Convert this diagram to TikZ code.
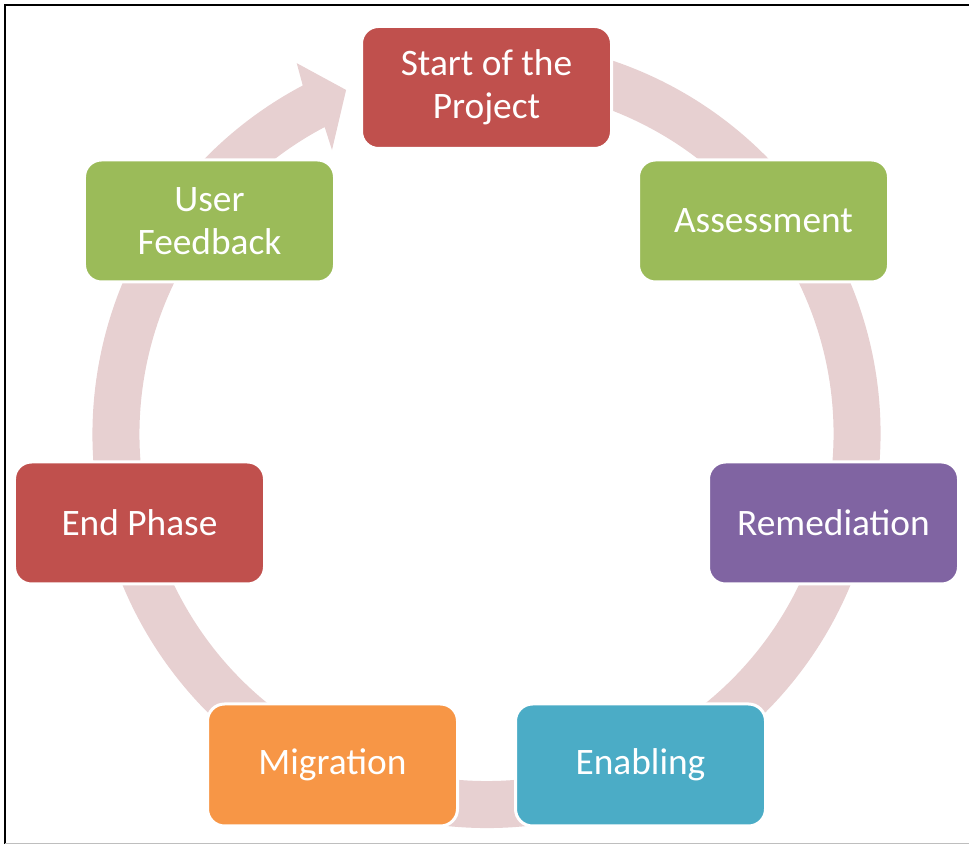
\documentclass[tikz,border=0pt]{standalone}
\usepackage{fontspec}
\setmainfont{Carlito}
\usetikzlibrary{calc}
\definecolor{cred}{RGB}{192,80,77}
\definecolor{cgreen}{RGB}{155,187,89}
\definecolor{cpurple}{RGB}{128,100,162}
\definecolor{cblue}{RGB}{75,172,198}
\definecolor{corange}{RGB}{247,150,70}
\definecolor{ringcol}{RGB}{231,208,209}
\definecolor{framegray}{RGB}{190,190,190}
\begin{document}
\begin{tikzpicture}[x=1bp,y=1bp,
  stage/.style={rectangle, rounded corners=17bp, minimum width=250bp, minimum height=122bp,
    draw=white, line width=3bp, text=white, font=\fontsize{37.5}{43}\selectfont,
    align=center, inner sep=0pt}]
\useasboundingbox (0,0) rectangle (969,845);
% frame
\draw[black, line width=2bp] (5,1) -- (5,840) -- (969,840);
\draw[framegray, line width=1.5bp] (5,1.7) -- (969,1.7);
% ring
\coordinate (c) at (486.5,411);
\fill[ringcol] ($(c)+(80:394)$) arc[start angle=80,end angle=-242.2,radius=394]
  -- ($(c)+(117.1:416.6)$) -- ($(c)+(112.2:371.6)$) -- ($(c)+(118.55:323.3)$)
  -- ($(c)+(117.8:347)$) arc[start angle=-242.2,end angle=80,radius=347] -- cycle;
% stages
\node[stage, fill=cred] (start) at (486.5,757.5) {Start of the\\Project};
\node[stage, fill=cgreen] (assess) at (763.5,624) {Assessment};
\node[stage, fill=cpurple] (remed) at (833.5,322) {Remediation};
\node[stage, fill=cblue] (enab) at (640.5,80) {Enabling};
\node[stage, fill=corange] (migr) at (332.5,80) {Migration};
\node[stage, fill=cred] (endp) at (139.5,322) {End Phase};
\node[stage, fill=cgreen] (user) at (209.5,624) {User\\Feedback};
\end{tikzpicture}
\end{document}
